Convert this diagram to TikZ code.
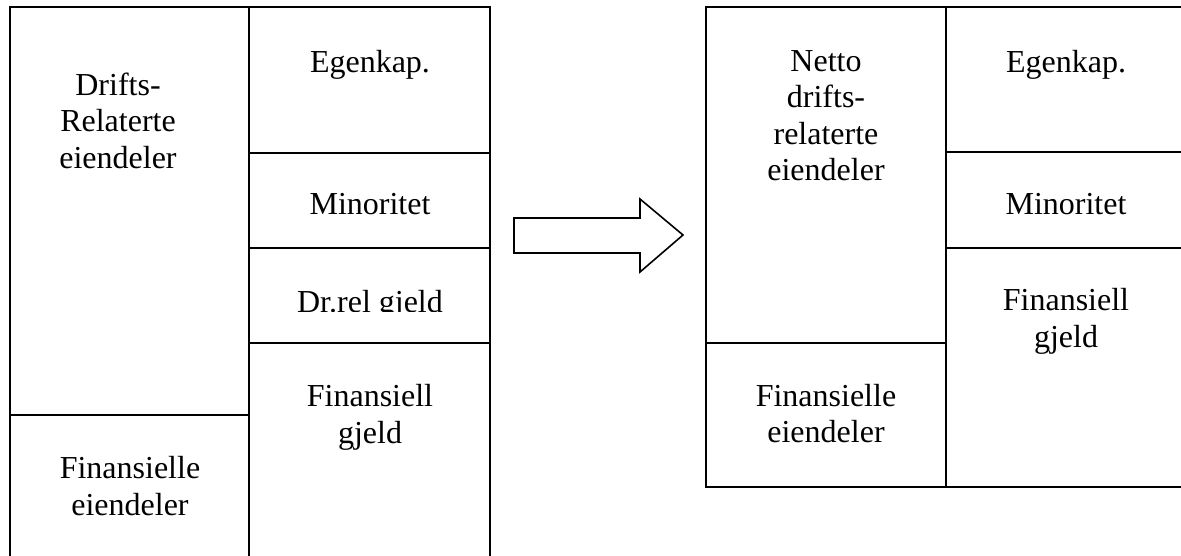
\documentclass[tikz,border=0pt]{standalone}
\usepackage{fontspec}
\setmainfont{Liberation Serif}
\begin{document}
\begin{tikzpicture}[x=1pt,y=-1pt,
  box/.style={draw=black,line width=1.6pt},
  lbl/.style={font=\fontsize{32}{36.5}\selectfont,align=center,inner sep=0pt,anchor=base},
  arrowshape/.style={draw=black,line width=1.6pt,line join=miter,fill=white}]
\useasboundingbox (0,0) rectangle (1181,555);
% left balance
\draw[box] (10,560) -- (10,7) -- (490,7) -- (490,560);
\draw[box] (249,7) -- (249,560);
\draw[box] (249,153) -- (490,153);
\draw[box] (249,248) -- (490,248);
\draw[box] (249,343) -- (490,343);
\draw[box] (10,415) -- (249,415);
\node[lbl] (ldr) at (118,168) {Drifts-\\Relaterte\\eiendeler};
\node[lbl] (lfe) at (130,515) {Finansielle\\eiendeler};
\node[lbl] (lek) at (370,72) {Egenkap.};
\node[lbl] (lmi) at (370,214) {Minoritet};
\begin{scope}
  \clip (250,250) rectangle (489,311);
  \node[lbl] (ldg) at (370,312) {Dr.rel gjeld};
\end{scope}
\node[lbl] (lfg) at (370,443) {Finansiell\\gjeld};
% arrow
\draw[arrowshape] (514,218) -- (640,218) -- (640,199) -- (683,235) -- (640,272) -- (640,253) -- (514,253) -- cycle;
% right balance
\draw[box] (1190,7) -- (706,7) -- (706,487) -- (1190,487);
\draw[box] (946,7) -- (946,487);
\draw[box] (946,152) -- (1190,152);
\draw[box] (946,248) -- (1190,248);
\draw[box] (706,343) -- (946,343);
\node[lbl] (rnd) at (826,180.5) {Netto\\drifts-\\relaterte\\eiendeler};
\node[lbl] (rfe) at (826,442.5) {Finansielle\\eiendeler};
\node[lbl] (rek) at (1066,72) {Egenkap.};
\node[lbl] (rmi) at (1066,214) {Minoritet};
\node[lbl] (rfg) at (1066,347) {Finansiell\\gjeld};
\end{tikzpicture}
\end{document}
